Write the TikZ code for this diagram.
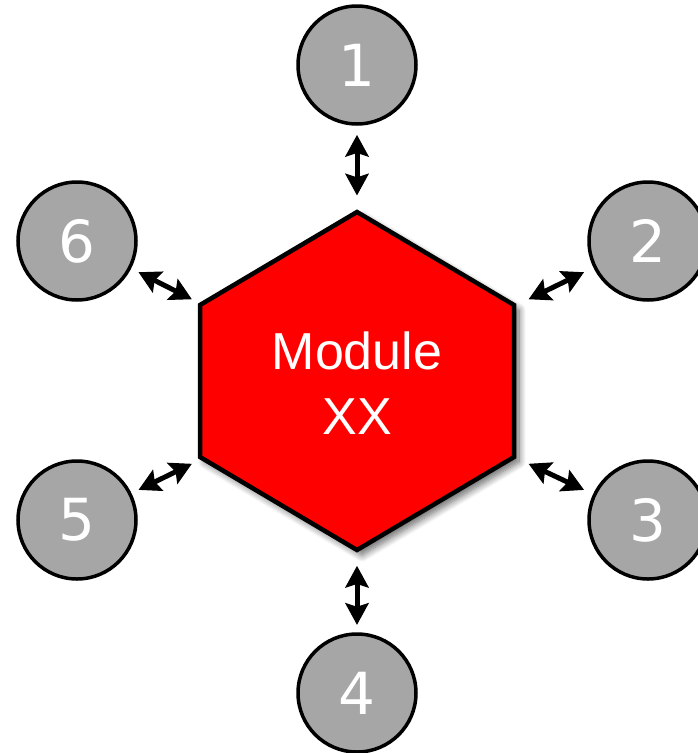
\documentclass[tikz,border=0pt]{standalone}
\usepackage{fontspec}
\setmainfont{Liberation Sans}
\newfontfamily\digitfont{DejaVu Sans}
\usetikzlibrary{arrows.meta,calc,shadows.blur}

\begin{document}
\begin{tikzpicture}[
    x=1pt, y=-1pt,
    module/.style={draw=black, line width=4.5pt, line join=miter, fill=red, blur shadow={shadow xshift=5pt, shadow yshift=-5pt, shadow blur radius=7pt, shadow blur steps=10, shadow opacity=60}},
    modtext/.style={text=white, font=\fontsize{52}{65}\selectfont, align=center},
    satellite/.style={circle, draw=black, line width=3.5pt, fill=gray!70, minimum size=118pt, inner sep=0pt, text=white, font=\digitfont\fontsize{58}{58}\selectfont},
    tip/.tip={Stealth[length=22pt, width=24pt, inset=4pt, fill=black, line width=1pt]},
    link/.style={tip-tip, line width=5pt},
]
\useasboundingbox (0,0) rectangle (697,753);

% Central module
\path[module] (357,212) -- (514,305) -- (514,457) -- (357,550) -- (200,457) -- (200,305) -- cycle;
\node[modtext] (hex) at (357,383) {Module\\XX};

% Surrounding modules
\foreach \n/\pos in {1/{(357,65)}, 2/{(648,241)}, 3/{(648,520)}, 4/{(357,693)}, 5/{(77,520)}, 6/{(77,241)}}
    \node[satellite] (c\n) at \pos {\n};

% Links to the centre
\foreach \n in {1,...,6}
    \draw[link] ($(c\n)!0.22!(hex)$) -- ($(c\n)!0.41!(hex)$);

\end{tikzpicture}
\end{document}
